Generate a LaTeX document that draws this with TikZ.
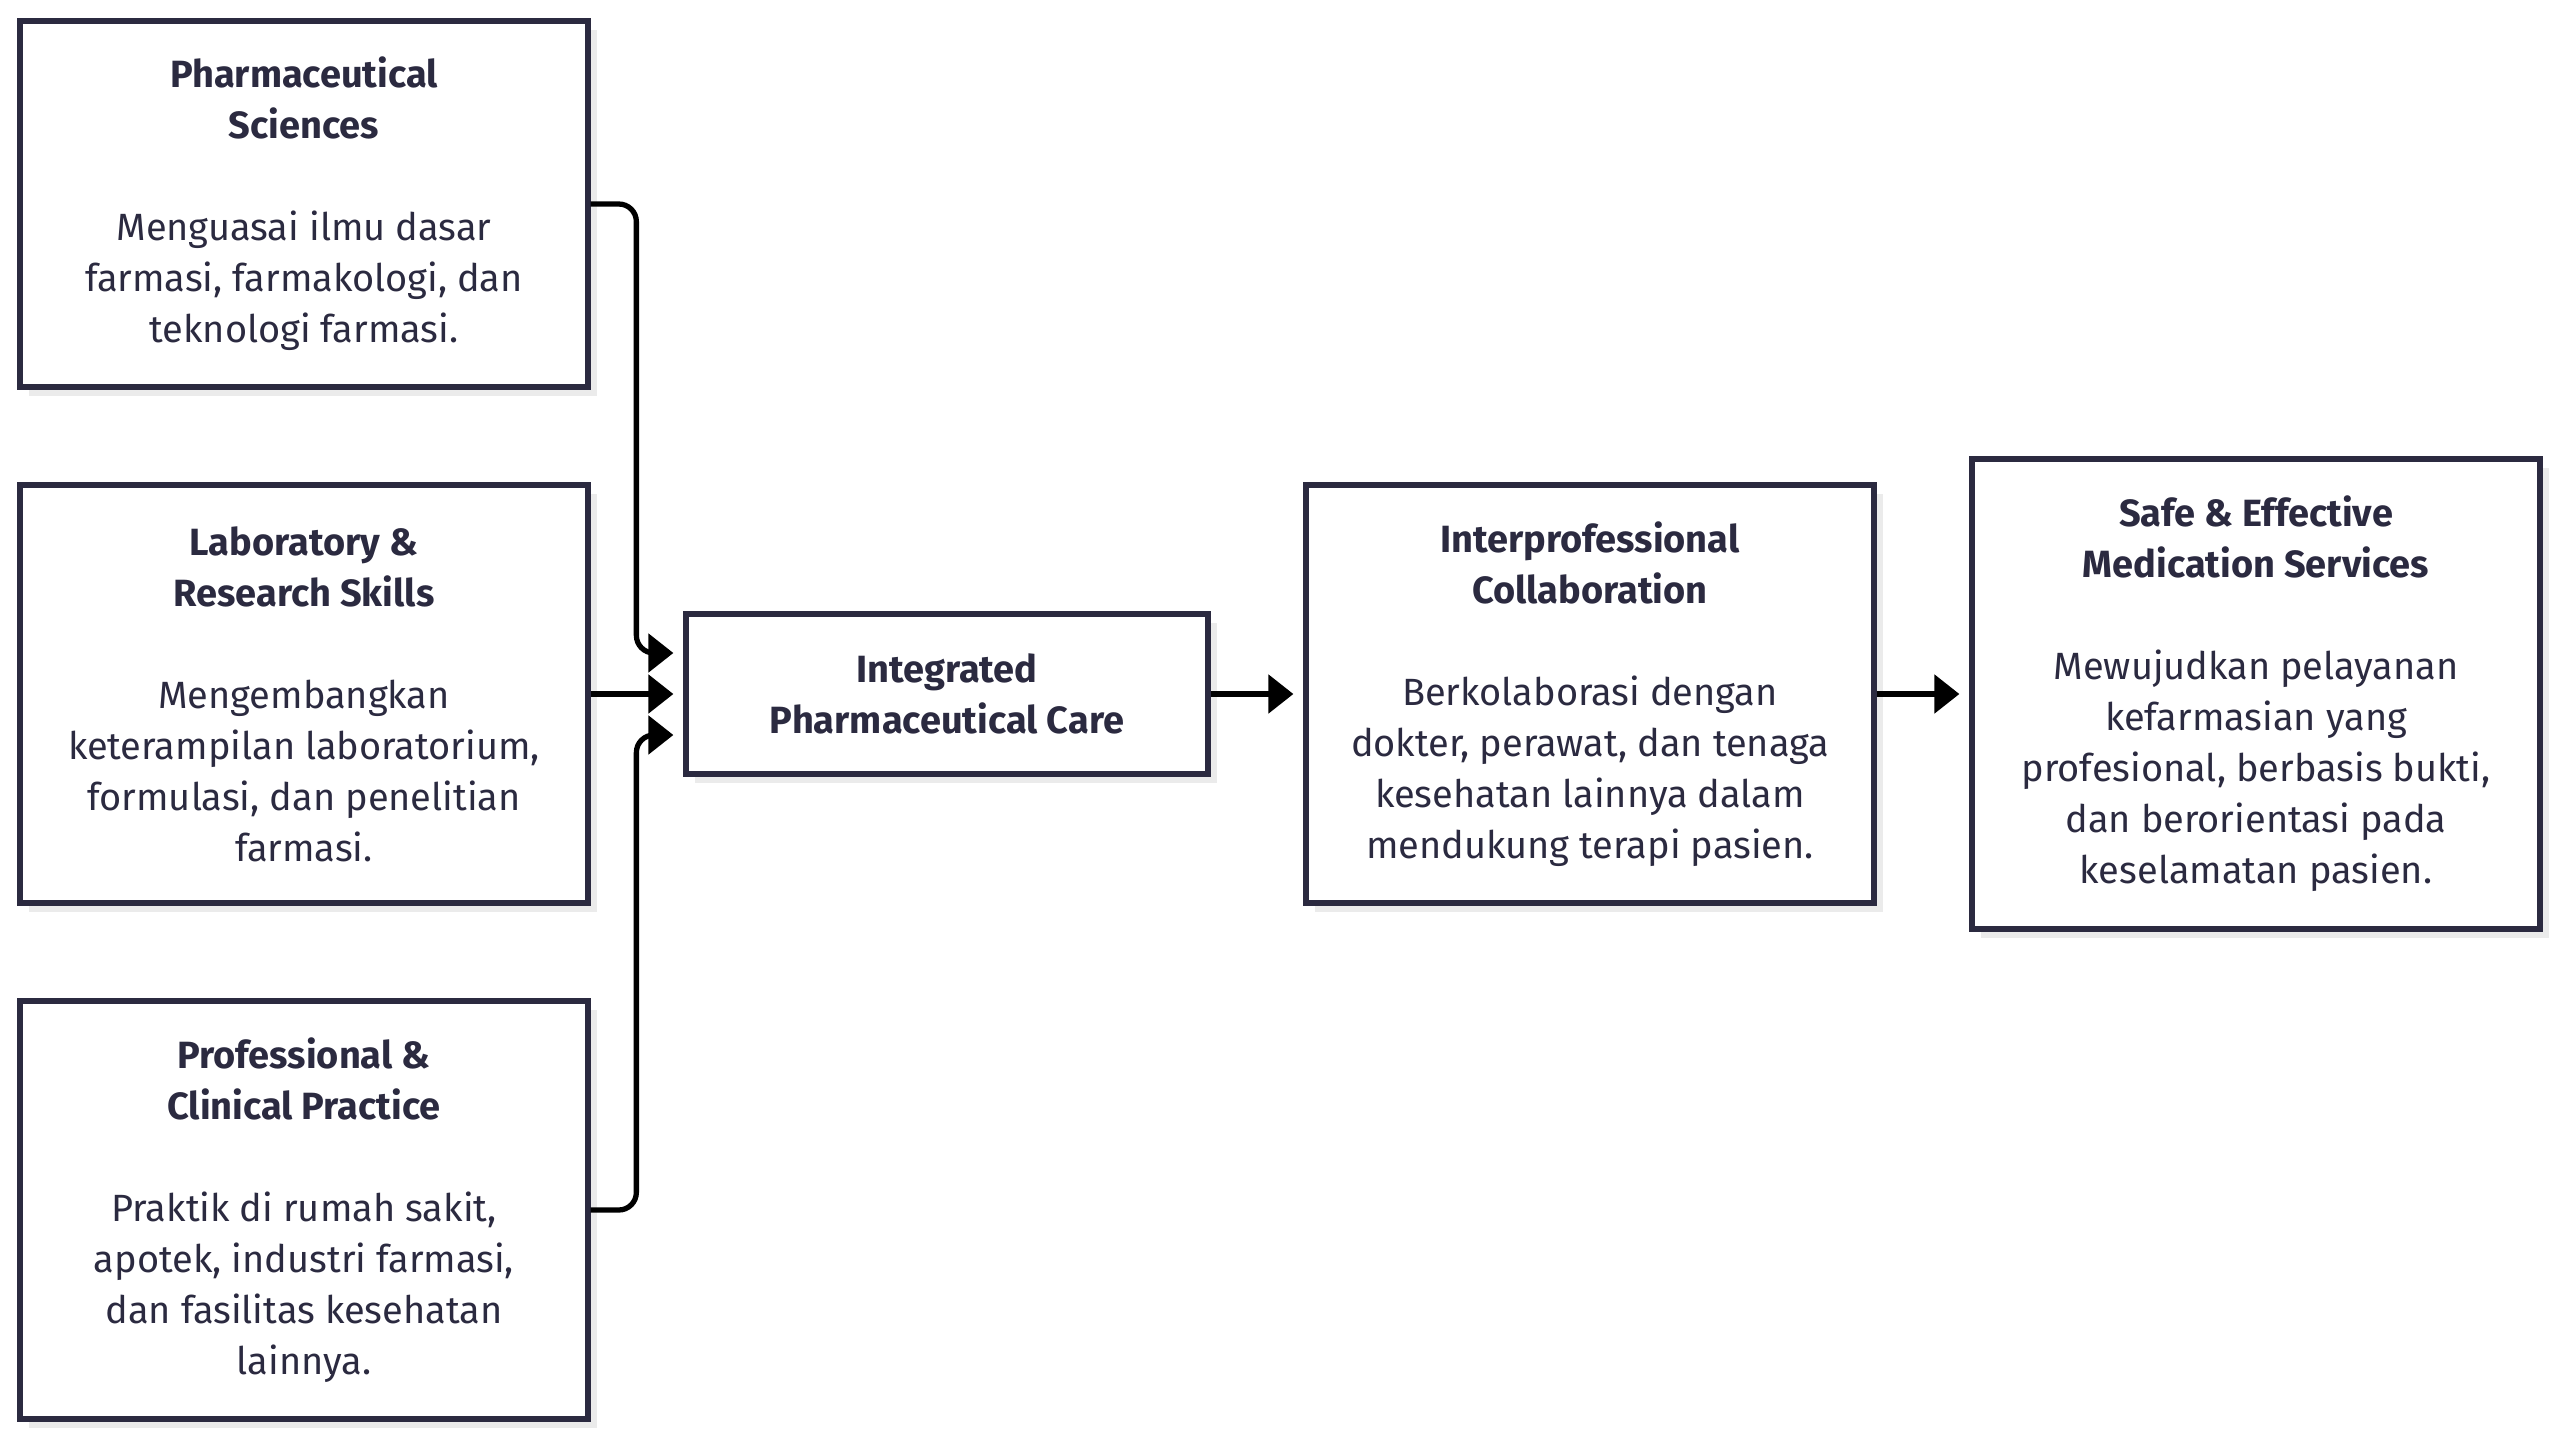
\documentclass[tikz,border=0pt]{standalone}
\usepackage{fontspec}
\setmainfont{Fira Sans}
\usetikzlibrary{arrows.meta,shadows}
\definecolor{ink}{HTML}{2B2A40}

\begin{document}
\begin{tikzpicture}[
  box/.style={draw=ink, line width=1.5pt, fill=white, text=ink, align=center,
    minimum width=5.68cm, inner sep=0pt,
    drop shadow={shadow xshift=0.9mm, shadow yshift=-0.9mm, fill=black!8, opacity=1},
    font=\fontsize{10.8}{14.5}\selectfont},
  flow/.style={line width=1.5pt, rounded corners=5pt, shorten >=1mm,
    -{Triangle[length=2.5mm,width=3.8mm]}}
]
\useasboundingbox (0,0) rectangle (25.6,-14.4);
\node[box, minimum height=3.66cm] (ps) at (3.04,-2.04) {\textbf{Pharmaceutical}\\\textbf{Sciences}\\[14.5pt]Menguasai ilmu dasar\\farmasi, farmakologi, dan\\teknologi farmasi.};
\node[box, minimum height=4.18cm] (lab) at (3.04,-6.94) {\textbf{Laboratory \&}\\\textbf{Research Skills}\\[14.5pt]Mengembangkan\\keterampilan laboratorium,\\formulasi, dan penelitian\\farmasi.};
\node[box, minimum height=4.18cm] (pcp) at (3.04,-12.10) {\textbf{Professional \&}\\\textbf{Clinical Practice}\\[14.5pt]Praktik di rumah sakit,\\apotek, industri farmasi,\\dan fasilitas kesehatan\\lainnya.};
\node[box, minimum width=5.22cm, minimum height=1.60cm] (ipc) at (9.47,-6.94) {\textbf{Integrated}\\\textbf{Pharmaceutical Care}};
\node[box, minimum height=4.18cm] (ic) at (15.90,-6.94) {\textbf{Interprofessional}\\\textbf{Collaboration}\\[14.5pt]Berkolaborasi dengan\\dokter, perawat, dan tenaga\\kesehatan lainnya dalam\\mendukung terapi pasien.};
\node[box, minimum height=4.70cm] (safe) at (22.56,-6.94) {\textbf{Safe \& Effective}\\\textbf{Medication Services}\\[14.5pt]Mewujudkan pelayanan\\kefarmasian yang\\profesional, berbasis bukti,\\dan berorientasi pada\\keselamatan pasien.};
% arrows
\draw[flow] (ps.east) -| ([xshift=-0.47cm,yshift=0.41cm]ipc.west) -- ([yshift=0.41cm]ipc.west);
\draw[flow] (lab.east) -- (ipc.west);
\draw[flow] (pcp.east) -| ([xshift=-0.47cm,yshift=-0.41cm]ipc.west) -- ([yshift=-0.41cm]ipc.west);
\draw[flow] (ipc.east) -- (ic.west);
\draw[flow] (ic.east) -- (safe.west);
\end{tikzpicture}
\end{document}
